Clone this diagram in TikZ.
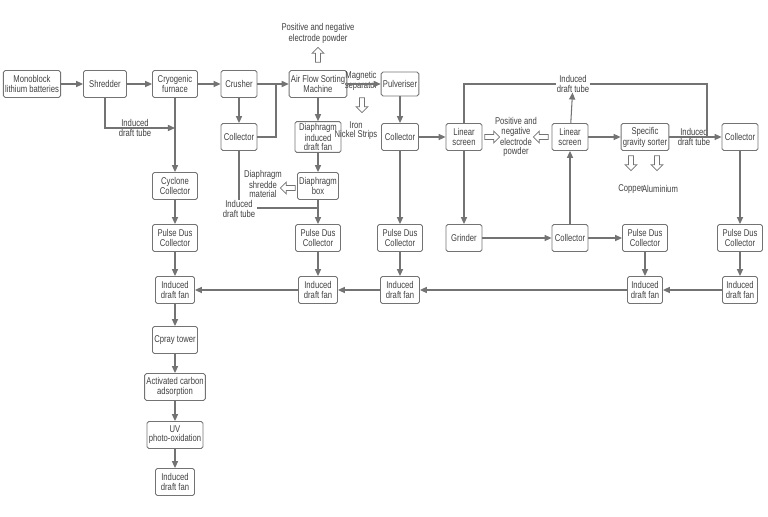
\documentclass[tikz,border=0pt]{standalone}
\usepackage{fontspec}
\setmainfont{Liberation Sans}[FakeStretch=0.78]
\usepackage{tikz}
\usetikzlibrary{positioning, arrows.meta, shapes}

\begin{document}
\begin{tikzpicture}[
            x=0.02cm, y=-0.02cm,
            block/.style={rectangle, draw=gray!90!black, rounded corners=1pt, line width=0.5pt, minimum height=0.54cm, minimum width=0.74cm, inner sep=1pt, text=gray!50!black},
            lbl/.style={text=gray!50!black, inner sep=0pt},
            hollow/.style={single arrow, draw=gray!90!black, minimum height=0.3cm, minimum width=0.24cm, single arrow head extend=1pt, inner sep=0.5pt},
            line/.style={draw=gray!90!black, line width=0.6pt},
            every node/.style={align=center, font=\fontsize{5.6}{5.2}\selectfont},
            >={Triangle[length=4pt, width=3.5pt]}
        ]
        \useasboundingbox (0,0) rectangle (768,517);
        % Top row
        \node[block, minimum width=1.08cm] (mono) at (32,84) {Monoblock\\lithium batteries};
        \node[block, minimum width=0.86cm] (shred) at (105,84) {Shredder};
        \node[block, minimum width=0.9cm] (cryo) at (175,84) {Cryogenic\\furnace};
        \node[block, minimum width=0.72cm] (crush) at (239,84) {Crusher};
        \node[block, minimum width=0.92cm] (air) at (318,84) {Air Flow Sorting\\Machine};
        \node[block, minimum height=0.48cm] (pulv) at (400,84) {Pulveriser};

        % Second row
        \node[block, minimum width=0.72cm] (coll1) at (239,137) {Collector};
        \node[block, minimum width=0.92cm] (dfan) at (318,137) {Diaphragm\\induced\\draft fan};
        \node[block] (coll2) at (400,137) {Collector};
        \node[block, minimum width=0.72cm] (lin1) at (464,137) {Linear\\screen};
        \node[block, minimum width=0.72cm] (lin2) at (570,137) {Linear\\screen};
        \node[block, minimum width=0.92cm] (sgs) at (645,137) {Specific\\gravity sorter};
        \node[block, minimum width=0.72cm] (coll3) at (740,137) {Collector};

        % Third row
        \node[block, minimum width=0.9cm] (cyc) at (175,186) {Cyclone\\Collector};
        \node[block] (dbox) at (318,186) {Diaphragm\\box};

        % Pulse row
        \node[block, minimum width=0.9cm] (pdc1) at (175,238) {Pulse Dus\\Collector};
        \node[block, minimum width=0.9cm] (pdc2) at (318,238) {Pulse Dus\\Collector};
        \node[block, minimum width=0.9cm] (pdc3) at (400,238) {Pulse Dus\\Collector};
        \node[block, minimum width=0.72cm] (grind) at (464,238) {Grinder};
        \node[block, minimum width=0.72cm] (coll4) at (570,238) {Collector};
        \node[block, minimum width=0.9cm] (pdc4) at (645,238) {Pulse Dus\\Collector};
        \node[block, minimum width=0.9cm] (pdc5) at (740,238) {Pulse Dus\\Collector};

        % Fan row
        \node[block, minimum width=0.78cm] (fan1) at (175,290) {Induced\\draft fan};
        \node[block, minimum width=0.78cm] (fan2) at (318,290) {Induced\\draft fan};
        \node[block, minimum width=0.78cm] (fan3) at (400,290) {Induced\\draft fan};
        \node[block, minimum width=0.7cm] (fan4) at (645,290) {Induced\\draft fan};
        \node[block, minimum width=0.7cm] (fan5) at (740,290) {Induced\\draft fan};

        % Exhaust column
        \node[block, minimum width=0.9cm] (spray) at (175,340) {Cpray tower};
        \node[block, minimum width=0.9cm] (carb) at (175,387) {Activated carbon\\adsorption};
        \node[block, minimum width=0.9cm] (uv) at (175,435) {UV\\photo-oxidation};
        \node[block, minimum width=0.78cm] (fan6) at (175,482) {Induced\\draft fan};

        % Labels and hollow arrows
        \node[lbl] (pnep1) at (318,33) {Positive and negative\\electrode powder};
        \node[hollow, rotate=90] (up1) at (318,56) {};
        \node[lbl] (magsep) at (361,81) {Magnetic\\separator};
        \node[hollow, rotate=-90] (dn1) at (362,104) {};
        \node[lbl] (iron) at (356,131) {Iron\\Nickel Strips};
        \node[lbl] (pnep2) at (516,137) {Positive and\\negative\\electrode\\powder};
        \node[hollow] (r1) at (491,137) {};
        \node[hollow, rotate=180] (l1) at (542,137) {};
        \node[hollow, rotate=-90] (dcu) at (631,162) {};
        \node[hollow, rotate=-90] (dal) at (657,162) {};
        \node[lbl] (cu) at (631,189) {Copper};
        \node[lbl] (al) at (660,189) {Aluminium};
        \node[lbl] (dsm) at (263,184) {Diaphragm\\shredde\\material};
        \node[hollow, rotate=180] (l2) at (289,188) {};
        \node[lbl, fill=white] (idt1) at (135,128) {Induced\\draft tube};
        \node[lbl] (idt2) at (239,209) {Induced\\draft tube};
        \node[lbl, fill=white] (idt3) at (573,84) {Induced\\draft tube};
        \node[lbl] (idt4) at (694,137) {Induced\\draft tube};

        \coordinate (j1) at (175,128);
        \coordinate (j2) at (276,84);
        \coordinate (j3) at (318,208);
        \coordinate (j4) at (707,137);

        % Main line
        \draw[line, ->] (mono) -- (shred);
        \draw[line, ->] (shred) -- (cryo);
        \draw[line, ->] (cryo) -- (crush);
        \draw[line, ->] (crush) -- (air);
        \draw[line, ->] (air) -- (pulv);
        \draw[line, ->] (shred) |- (j1);
        \draw[line, ->] (cryo) -- (cyc);
        \draw[line, ->] (crush) -- (coll1);
        \draw[line] (coll1) -| (j2);
        \draw[line, ->] (air) -- (dfan);
        \draw[line, ->] (dfan) -- (dbox);
        \draw[line] (coll1) -- (idt2);
        \draw[line] (257,208) -- (j3);
        \draw[line, ->] (dbox) -- (pdc2);
        \draw[line, ->] (pulv) -- (coll2);
        \draw[line, ->] (coll2) -- (lin1);
        \draw[line, ->] (coll2) -- (pdc3);
        \draw[line, ->] (lin1) -- (grind);
        \draw[line] (lin1) |- (idt3) -| (j4);
        \draw[line, ->] (lin2) -- (idt3);
        \draw[line, ->] (grind) -- (coll4);
        \draw[line, ->] (coll4) -- (lin2);
        \draw[line, ->] (coll4) -- (pdc4);
        \draw[line, ->] (lin2) -- (sgs);
        \draw[line, ->] (sgs) -- (coll3);
        \draw[line, ->] (coll3) -- (pdc5);

        % Exhaust lines
        \draw[line, ->] (cyc) -- (pdc1);
        \draw[line, ->] (pdc1) -- (fan1);
        \draw[line, ->] (pdc2) -- (fan2);
        \draw[line, ->] (pdc3) -- (fan3);
        \draw[line, ->] (pdc4) -- (fan4);
        \draw[line, ->] (pdc5) -- (fan5);
        \draw[line, ->] (fan5) -- (fan4);
        \draw[line, ->] (fan4) -- (fan3);
        \draw[line, ->] (fan3) -- (fan2);
        \draw[line, ->] (fan2) -- (fan1);
        \draw[line, ->] (fan1) -- (spray);
        \draw[line, ->] (spray) -- (carb);
        \draw[line, ->] (carb) -- (uv);
        \draw[line, ->] (uv) -- (fan6);
    \end{tikzpicture}
\end{document}
